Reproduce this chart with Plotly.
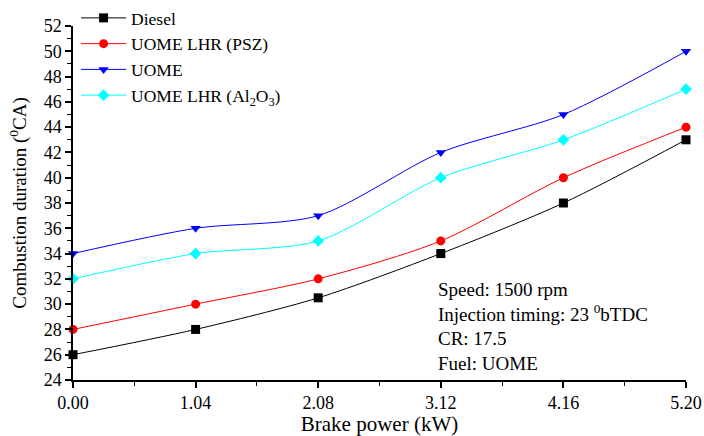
import plotly.graph_objects as go

# Brake power (kW) and combustion duration (deg CA) for each fuel / engine setup
brake_power = [0.00, 1.04, 2.08, 3.12, 4.16, 5.20]
diesel = [26, 28, 30.5, 34, 38, 43]
uome_lhr_psz = [28, 30, 32, 35, 40, 44]
uome = [34, 36, 37, 42, 45, 50]
uome_lhr_al2o3 = [32, 34, 35, 40, 43, 47]

x_ticks = [0.00, 1.04, 2.08, 3.12, 4.16, 5.20]
x_tick_text = ["0.00", "1.04", "2.08", "3.12", "4.16", "5.20"]

FONT = "Liberation Serif, Times New Roman, serif"

series = [
    ("Diesel", diesel, "black", "square"),
    ("UOME LHR (PSZ)", uome_lhr_psz, "red", "circle"),
    ("UOME", uome, "blue", "triangle-down"),
    ("UOME LHR (Al<sub>2</sub>O<sub>3</sub>)", uome_lhr_al2o3, "cyan", "diamond"),
]

fig = go.Figure()
for name, values, color, symbol in series:
    fig.add_trace(go.Scatter(
        x=brake_power, y=values, name=name,
        mode="lines+markers",
        line=dict(color=color, width=1, shape="spline", smoothing=0.8),
        marker=dict(symbol=symbol, color=color, size=9),
        cliponaxis=False,
    ))

fig.update_layout(
    width=704, height=436,
    margin=dict(l=73, r=18, t=26, b=56, autoexpand=False),
    paper_bgcolor="white", plot_bgcolor="white",
    font=dict(family=FONT, size=18, color="black"),
    showlegend=True,
    legend=dict(
        x=0.005, y=1.005, xanchor="left", yanchor="top",
        xref="paper", yref="container",
        bgcolor="rgba(0,0,0,0)", font=dict(family=FONT, size=17.5),
        tracegroupgap=0, itemwidth=45,
    ),
    xaxis=dict(
        range=[0, 5.2], tickvals=x_ticks, ticktext=x_tick_text, automargin=False,
        showgrid=False, zeroline=False, showline=True, linecolor="black", linewidth=1.5,
        ticks="outside", ticklen=6, tickwidth=1.5, tickcolor="black",
        minor=dict(dtick=0.52, tick0=0, ticks="outside", ticklen=4, tickwidth=1.2, tickcolor="black"),
        tickfont=dict(family=FONT, size=18),
        title=dict(text="Brake power (kW)", font=dict(family=FONT, size=21), standoff=8),
    ),
    yaxis=dict(
        range=[24, 52], dtick=2, tick0=24, automargin=False,
        showgrid=False, zeroline=False, showline=True, linecolor="black", linewidth=1.5,
        ticks="outside", ticklen=6, tickwidth=1.5, tickcolor="black",
        minor=dict(dtick=1, ticks="outside", ticklen=4, tickwidth=1.2, tickcolor="black"),
        tickfont=dict(family=FONT, size=18),
        title=dict(text="Combustion duration (<sup>0</sup>CA)", font=dict(family=FONT, size=19), standoff=12),
    ),
)

fig.add_annotation(
    x=0.592, y=0.29, xref="paper", yref="paper", xanchor="left", yanchor="top",
    align="left", showarrow=False,
    text="Speed: 1500 rpm<br>Injection timing: 23 <sup>0</sup>bTDC<br>CR: 17.5<br>Fuel: UOME",
    font=dict(family=FONT, size=19),
)

fig.write_html("out.html")
